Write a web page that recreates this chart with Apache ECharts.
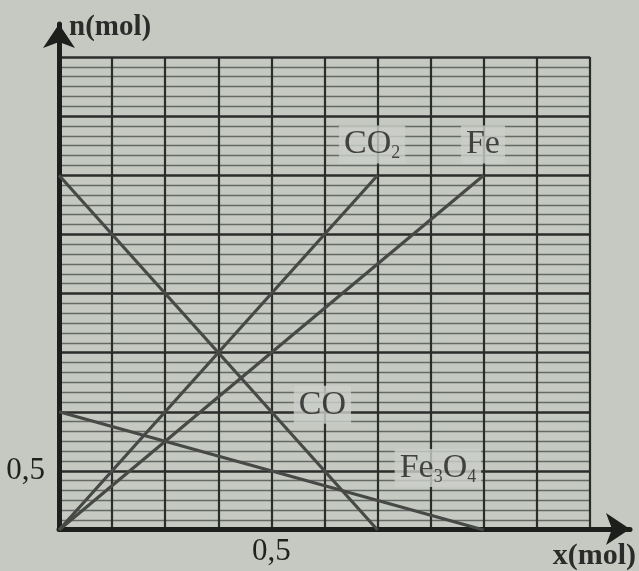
<!DOCTYPE html>
<html>
<head>
<meta charset="utf-8">
<script src="https://cdn.jsdelivr.net/npm/echarts@6/dist/echarts.min.js"></script>
<style>
  html, body { margin: 0; padding: 0; background: #c5c9c2; }
  #chart { width: 639px; height: 571px; }
</style>
</head>
<body>
<div id="chart"></div>
<script>
// x: amount of Fe3O4 reacted (mol); n: amount of each species (mol)
const xRange = [0, 1.25];
const nRange = [0, 4];
const xStep = 0.125;
const nStep = 0.5;
const xTickLabels = { '0.5': '0,5' };
const nTickLabels = { '0.5': '0,5' };

const coX = [0, 0.75];    const coN = [3, 0];
const co2X = [0, 0.75];   const co2N = [0, 3];
const feX = [0, 1];       const feN = [0, 3];
const fe3o4X = [0, 1];    const fe3o4N = [1, 0];

// species names written beside their lines, at (x, n)
const labelText = ['CO', 'CO{s|2}', 'Fe', 'Fe{s|3}O{s|4}'];
const labelX = [0.62, 0.737, 0.998, 0.892];
const labelN = [1.06, 3.26, 3.26, 0.525];

const serif = 'Liberation Serif';
const lineColor = '#464946';
const pageBg = '#c5c9c2';
const inkColor = '#1f211f';

function pairs(xs, ys) { return xs.map((x, i) => [x, ys[i]]); }

function lineSeries(name, xs, ys) {
  return {
    name, type: 'line', xAxisIndex: 0, yAxisIndex: 0,
    data: pairs(xs, ys), symbol: 'none', silent: true,
    lineStyle: { color: lineColor, width: 3.2 }
  };
}

const chart = echarts.init(document.getElementById('chart'));
chart.setOption({
  backgroundColor: pageBg,
  animation: false,
  grid: [
    { left: 59, right: 49, top: 57, bottom: 41 },   // ruled plotting area
    { left: 59, right: 8, top: 24, bottom: 41 }     // arrowed axes
  ],
  xAxis: [
    {
      gridIndex: 0, type: 'value', min: xRange[0], max: xRange[1], interval: xStep,
      axisLine: { show: false }, axisTick: { show: false },
      splitLine: { show: true, lineStyle: { color: '#2a2d2a', width: 2.2 } },
      axisLabel: {
        formatter: v => xTickLabels[String(v)] || '',
        fontFamily: serif, fontSize: 31, color: inkColor, margin: 6
      }
    },
    {
      gridIndex: 1, type: 'value', min: 0, max: 1,
      axisLine: {
        show: true, symbol: ['none', 'arrow'], symbolSize: [24, 24],
        lineStyle: { color: '#1c1f1c', width: 5 }
      },
      axisTick: { show: false }, axisLabel: { show: false }, splitLine: { show: false },
      name: 'x(mol)', nameLocation: 'end', nameGap: 6,
      nameTextStyle: {
        fontFamily: serif, fontSize: 30, fontWeight: 'bold', color: '#2a2c2a',
        align: 'right', verticalAlign: 'top', padding: [12, 0, 0, 0]
      }
    }
  ],
  yAxis: [
    {
      gridIndex: 0, type: 'value', min: nRange[0], max: nRange[1], interval: nStep,
      axisLine: { show: false }, axisTick: { show: false },
      splitLine: { show: true, lineStyle: { color: '#2a2d2a', width: 2.6 } },
      minorTick: { show: false, splitNumber: 6 },
      minorSplitLine: { show: true, lineStyle: { color: '#666a65', width: 1.3 } },
      axisLabel: {
        formatter: v => nTickLabels[String(v)] || '',
        fontFamily: serif, fontSize: 31, color: inkColor, margin: 14
      }
    },
    {
      gridIndex: 1, type: 'value', min: 0, max: 1,
      axisLine: {
        show: true, symbol: ['none', 'arrow'], symbolSize: [24, 24],
        lineStyle: { color: '#1c1f1c', width: 5 }
      },
      axisTick: { show: false }, axisLabel: { show: false }, splitLine: { show: false },
      name: 'n(mol)', nameLocation: 'end', nameGap: -4,
      nameTextStyle: {
        fontFamily: serif, fontSize: 29, fontWeight: 'bold', color: '#2a2c2a',
        align: 'left', verticalAlign: 'middle', padding: [0, 0, 0, 10]
      }
    }
  ],
  series: [
    lineSeries('CO', coX, coN),
    lineSeries('CO2', co2X, co2N),
    lineSeries('Fe', feX, feN),
    lineSeries('Fe3O4', fe3o4X, fe3o4N),
    {
      type: 'scatter', xAxisIndex: 0, yAxisIndex: 0, silent: true,
      symbolSize: 0, z: 5,
      data: labelX.map((x, i) => ({ value: [x, labelN[i]], text: labelText[i] })),
      label: {
        show: true, position: 'inside',
        formatter: p => p.data.text,
        fontFamily: serif, fontSize: 34, lineHeight: 36, color: inkColor,
        backgroundColor: '#ccd0c9', padding: [1, 5, 1, 5],
        rich: {
          s: { fontFamily: serif, fontSize: 18, lineHeight: 18, verticalAlign: 'bottom', color: inkColor }
        }
      }
    }
  ]
});
</script>
</body>
</html>
